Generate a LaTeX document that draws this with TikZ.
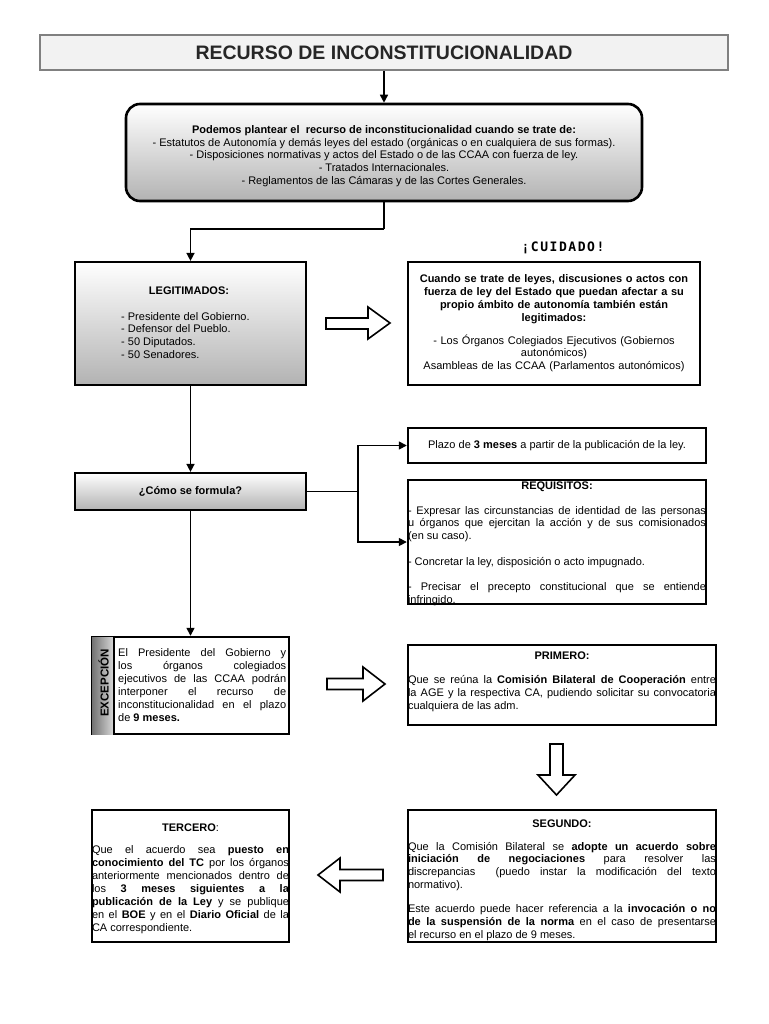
\documentclass[tikz,border=0pt]{standalone}
\usepackage{fontspec}
\setmainfont{Liberation Sans}
\newfontfamily\monofnt[LetterSpace=12]{DejaVu Sans Mono}
\usepackage{graphicx}
\usetikzlibrary{arrows.meta,calc}
\tikzset{
  bodyfont/.style={font=\fontsize{11}{12.8}\selectfont},
  plainbox/.style={draw=black, line width=2.4pt, fill=white, inner sep=2pt, bodyfont},
  gradbox/.style={draw=black, line width=2.2pt, top color=white, bottom color=black!30, inner sep=2pt, bodyfont},
  conn/.style={draw=black, line width=1.5pt, -{Triangle[length=8pt,width=8pt]}},
  connline/.style={draw=black, line width=1.5pt},
  blockarrow/.style={draw=black, line width=1.6pt, fill=white, line join=miter},
  jtext/.style={text width=#1, align=justify, bodyfont, inner sep=0pt}
}
\begin{document}
\begin{tikzpicture}[x=1pt,y=-1pt]
\useasboundingbox[fill=white] (0,0) rectangle (768,1024);
\hyphenpenalty=10000 \exhyphenpenalty=10000 \emergencystretch=20pt \tolerance=9999

% title
\node[draw=black!50, fill=black!5, line width=2pt, minimum width=688pt, minimum height=35pt, inner sep=0pt, text=black!85]
  (title) at (384,52.5) {\fontsize{19.5}{21}\selectfont\bfseries RECURSO DE INCONSTITUCIONALIDAD};

% top rounded box
\node[gradbox, rounded corners=14pt, minimum width=516pt, minimum height=97pt, line width=2.6pt]
  (top) at (384,152.5) {};
\node[align=center, inner sep=0pt, font=\fontsize{11}{12.6}\selectfont]
  (toptxt) at (384,156) {\textbf{Podemos plantear el\ \ recurso de inconstitucionalidad cuando se trate de:}\\
  - Estatutos de Autonomía y demás leyes del estado (orgánicas o en cualquiera de sus formas).\\
  - Disposiciones normativas y actos del Estado o de las CCAA con fuerza de ley.\\
  - Tratados Internacionales.\\
  - Reglamentos de las Cámaras y de las Cortes Generales.};

\draw[conn] (title.south) -- (top.north);

% legitimados
\node[gradbox, minimum width=231pt, minimum height=123pt] (legit) at (190.5,323.5) {};
\node[font=\bfseries\fontsize{11}{12.7}\selectfont, inner sep=0pt] (legithead) at (189,291) {LEGITIMADOS:};
\node[bodyfont, align=left, anchor=north west, inner sep=0pt] (legittxt) at (121,312) {- Presidente del Gobierno.\\
  - Defensor del Pueblo.\\
  - 50 Diputados.\\
  - 50 Senadores.};

\coordinate (bend) at (384,229);
\draw[connline] (top.south) -- (bend);
\draw[conn] (bend) -| (legit.north);

% cuidado
\node[font=\monofnt\bfseries\fontsize{13}{14}\selectfont] (cuidadolbl) at (563,248) {¡CUIDADO!};
\node[plainbox, minimum width=292pt, minimum height=123pt, text width=286pt, align=center, line width=2.8pt]
  (cuidado) at (554,323.5) {\textbf{Cuando se trate de leyes, discusiones o actos con\\
  fuerza de ley del Estado que puedan afectar a su\\
  propio ámbito de autonomía también están\\
  legitimados:}\\[10pt]
  - Los Órganos Colegiados Ejecutivos (Gobiernos\\
  autonómicos)\\
  Asambleas de las CCAA (Parlamentos autonómicos)};

\draw[blockarrow] (326,318) -- (368,318) -- (368,307) -- (390,323) -- (368,339) -- (368,329) -- (326,329) -- cycle;

% como se formula
\node[gradbox, minimum width=231pt, minimum height=37pt] (como) at (190.5,491.5) {\textbf{¿Cómo se formula?}};
\draw[conn] (legit.south) -- (como.north);

% plazo
\node[plainbox, minimum width=298pt, minimum height=35pt] (plazo) at (557,445.5) {Plazo de \textbf{3 meses} a partir de la publicación de la ley.};

% requisitos
\node[plainbox, minimum width=298pt, minimum height=124pt] (req) at (557,542) {};
\node[jtext=298pt, anchor=north] (reqtxt) at (557,481.5) {{\centering\textbf{REQUISITOS:}\par}\vspace{12pt}
  - Expresar las circunstancias de identidad de las personas\linebreak
  u órganos que ejercitan la acción y de sus comisionados\linebreak
  (en su caso).\par\vspace{12.5pt}
  - Concretar la ley, disposición o acto impugnado.\par\vspace{12.5pt}
  - Precisar el precepto constitucional que se entiende\linebreak
  infringido.};

\coordinate (branch) at (358,491.5);
\draw[connline] (como.east) -- (branch);
\draw[conn] (branch) |- (plazo.west);
\draw[conn] (branch) |- (req.west);

% excepcion
\node[plainbox, minimum width=197pt, minimum height=97pt] (exc) at (190.5,685.5) {};
\path[left color=black!55, right color=black!15] ($(exc.north west)+(1.2,1.2)$) rectangle ($(exc.south west)+(23,-1.2)$);
\draw[line width=2pt] ($(exc.north west)+(23,0)$) -- ($(exc.south west)+(23,0)$);
\node[rotate=90, font=\bfseries\fontsize{11.5}{12}\selectfont, inner sep=0pt] (exclbl) at (103.5,683) {EXCEPCIÓN};
\node[jtext=168pt, anchor=north west, font=\fontsize{11}{12.9}\selectfont] (exctxt) at (118,648.5) {El Presidente del Gobierno y\linebreak
  los órganos colegiados\linebreak
  ejecutivos de las CCAA podrán\linebreak
  interponer el recurso de\linebreak
  inconstitucionalidad en el plazo\linebreak
  de \textbf{9 meses.}};
\draw[conn] (como.south) -- (exc.north);

\draw[blockarrow] (327,678.5) -- (363,678.5) -- (363,667) -- (385,684) -- (363,701) -- (363,689.5) -- (327,689.5) -- cycle;

% primero
\node[plainbox, minimum width=308pt, minimum height=80pt] (prim) at (562,685) {};
\node[jtext=308pt, anchor=north] (primtxt) at (562,652) {{\centering\textbf{PRIMERO:}\par}\vspace{11pt}
  Que se reúna la \textbf{Comisión Bilateral de Cooperación} entre\linebreak
  la AGE y la respectiva CA, pudiendo solicitar su convocatoria\linebreak
  cualquiera de las adm.};

\draw[blockarrow] (550,744) -- (563,744) -- (563,775) -- (575,775) -- (556.5,795) -- (538,775) -- (550,775) -- cycle;

% segundo
\node[plainbox, minimum width=308pt, minimum height=132pt] (seg) at (562,876) {};
\node[jtext=308pt, anchor=north] (segtxt) at (562,819.5) {{\centering\textbf{SEGUNDO:}\par}\vspace{10pt}
  Que la Comisión Bilateral se \textbf{adopte un acuerdo sobre}\linebreak
  \textbf{iniciación de negociaciones} para resolver las\linebreak
  discrepancias\ \ (puedo instar la modificación del texto\linebreak
  normativo).\par\vspace{11.5pt}
  Este acuerdo puede hacer referencia a la \textbf{invocación o no}\linebreak
  \textbf{de la suspensión de la norma} en el caso de presentarse\linebreak
  el recurso en el plazo de 9 meses.};

% tercero
\node[plainbox, minimum width=197pt, minimum height=132pt] (ter) at (190.5,876) {};
\node[jtext=197pt, anchor=north, font=\fontsize{11}{13}\selectfont] (tertxt) at (190.5,824) {{\centering\textbf{TERCERO}:\par}\vspace{9pt}
  Que el acuerdo sea \textbf{puesto en}\linebreak
  \textbf{conocimiento del TC} por los órganos\linebreak
  anteriormente mencionados dentro de\linebreak
  los \textbf{3 meses siguientes a la}\linebreak
  \textbf{publicación de la Ley} y se publique\linebreak
  en el \textbf{BOE} y en el \textbf{Diario Oficial} de la\linebreak
  CA correspondiente.};

\draw[blockarrow] (383,869.5) -- (340,869.5) -- (340,858) -- (318,875) -- (340,892) -- (340,880.5) -- (383,880.5) -- cycle;

\end{tikzpicture}
\end{document}
